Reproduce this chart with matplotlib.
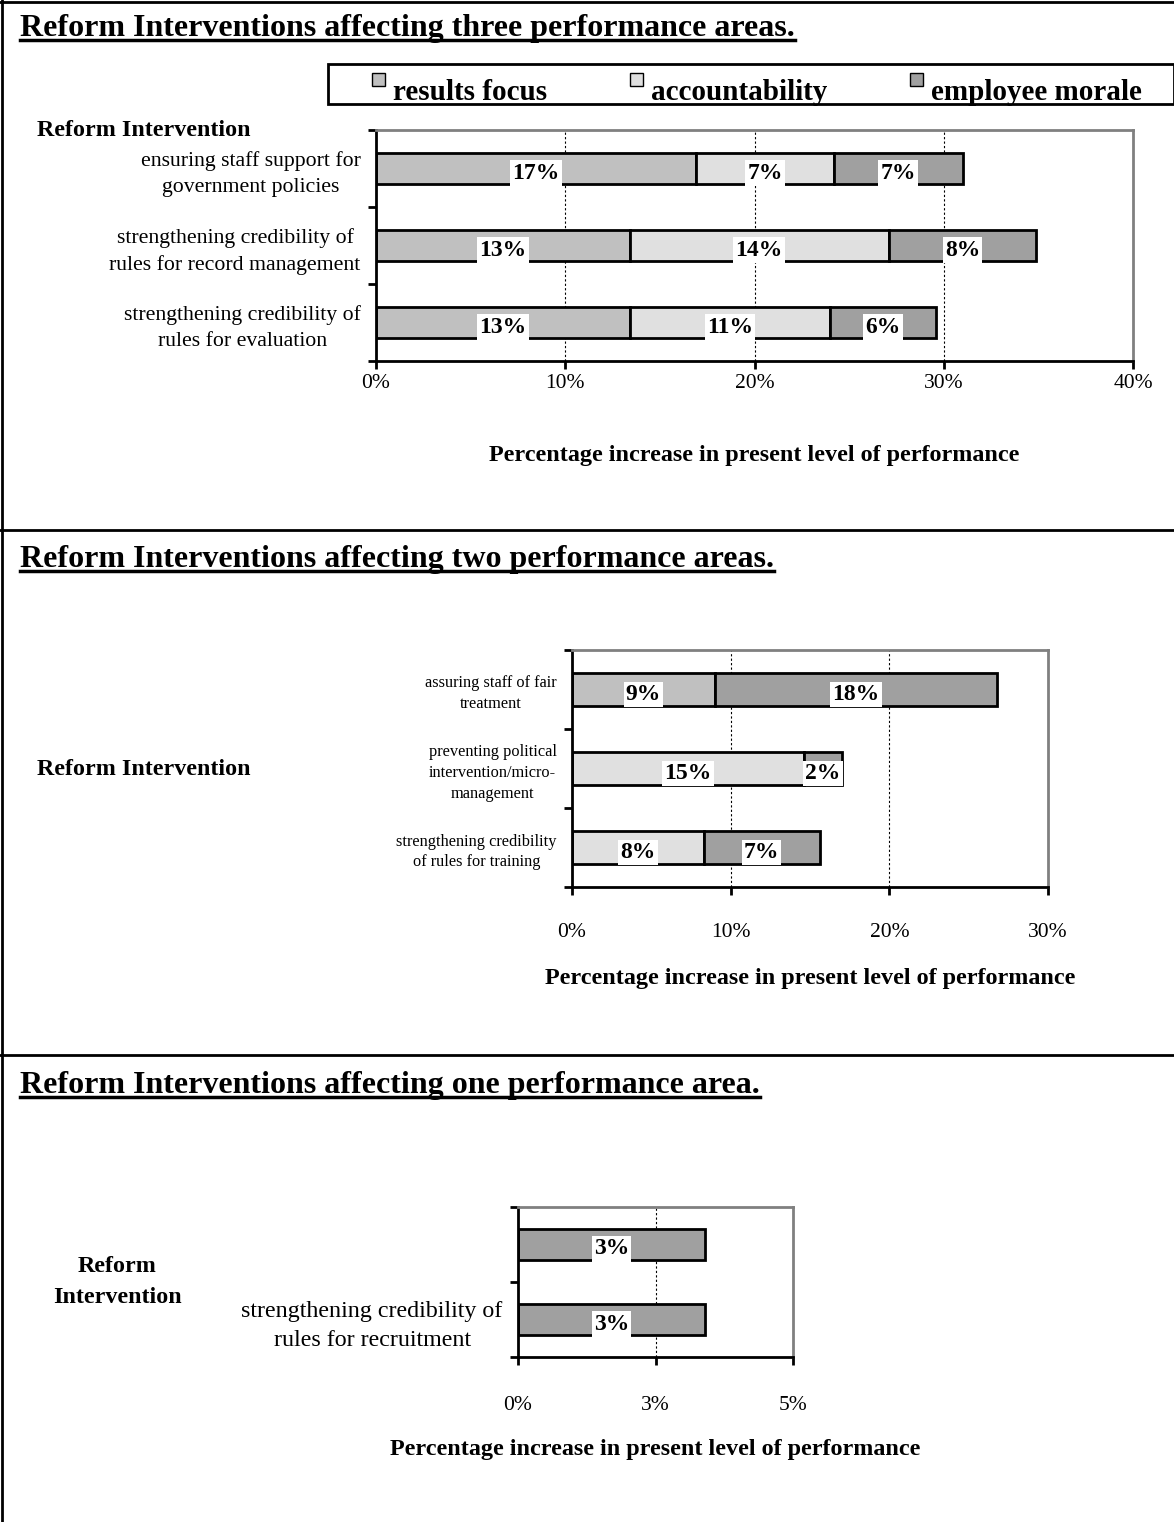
import matplotlib
matplotlib.use("Agg")
import matplotlib.pyplot as plt
import numpy as np
from matplotlib.patches import Rectangle
from matplotlib.lines import Line2D

plt.rcParams['font.family'] = ['Liberation Serif', 'DejaVu Serif']

W, H = 1174, 1522

series_names = ['results focus', 'accountability', 'employee morale']
series_colors = ['#c0c0c0', '#e0e0e0', '#a0a0a0']

# interventions affecting three areas
cats1 = ['ensuring staff support for\ngovernment policies',
         'strengthening credibility of\nrules for record management',
         'strengthening credibility of\nrules for evaluation']
results1 = [16.9, 13.4, 13.4]
account1 = [7.3, 13.7, 10.6]
morale1 = [6.8, 7.8, 5.6]
xticks1 = [0, 10, 20, 30, 40]
xlabels1 = ['0%', '10%', '20%', '30%', '40%']

# interventions affecting two areas
cats2 = ['assuring staff of fair\ntreatment',
         'preventing political\nintervention/micro-\nmanagement',
         'strengthening credibility\nof rules for training']
results2 = [9.0, 0, 0]
account2 = [0, 14.6, 8.3]
morale2 = [17.8, 2.4, 7.3]
xticks2 = [0, 10, 20, 30]
xlabels2 = ['0%', '10%', '20%', '30%']

# interventions affecting one area
cats3 = ['', 'strengthening credibility of\nrules for recruitment']
results3 = [0, 0]
account3 = [0, 0]
morale3 = [3.4, 3.4]
xticks3 = [0, 2.5, 5]
xlabels3 = ['0%', '3%', '5%']


def fx(px):
    return px / W


def fy(py):
    return 1 - py / H


fig = plt.figure(figsize=(W / 100, H / 100), dpi=100)


def panel(box, cats, series, xticks, xlabels, cat_size, cat_spacing, xpad, xlabel_y):
    left, top, right, bottom = box
    ax = fig.add_axes([fx(left), fy(bottom), (right - left) / W, (bottom - top) / H])
    y = np.arange(len(cats))
    base = np.zeros(len(cats))
    for vals, col in zip(series, series_colors):
        vals = np.array(vals, dtype=float)
        m = vals > 0
        ax.barh(y[m], vals[m], left=base[m], height=0.41, color=col,
                edgecolor='black', linewidth=2, zorder=2)
        for yi, b, v in zip(y[m], base[m], vals[m]):
            ax.text(b + v / 2, yi + 0.06, f'{v:.0f}%', ha='center', va='center',
                    fontsize=17, fontweight='bold', zorder=3,
                    bbox=dict(facecolor='white', edgecolor='none', pad=1.5))
        base = base + vals
    ax.set_xlim(xticks[0], xticks[-1])
    ax.set_ylim(len(cats) - 0.5, -0.5)
    for xt in xticks[1:-1]:
        ax.axvline(xt, color='black', lw=0.8, ls=(0, (2, 2)), zorder=1)
    ax.set_xticks(xticks)
    ax.set_xticklabels(xlabels, fontsize=15.5)
    ax.tick_params(axis='x', length=6, width=2, pad=xpad)
    ax.set_yticks(np.arange(len(cats) + 1) - 0.5)
    ax.set_yticklabels([])
    ax.tick_params(axis='y', which='major', length=6, width=2)
    ax.set_yticks(y, minor=True)
    ax.set_yticklabels(cats, minor=True, fontsize=cat_size)
    ax.tick_params(axis='y', which='minor', length=0, pad=11)
    for lab in ax.get_yticklabels(minor=True):
        lab.set_multialignment('center')
        lab.set_linespacing(cat_spacing)
    for s in ['left', 'bottom']:
        ax.spines[s].set_linewidth(2)
        ax.spines[s].set_color('black')
    for s in ['top', 'right']:
        ax.spines[s].set_linewidth(2)
        ax.spines[s].set_color('#808080')
    fig.text(fx((left + right) / 2), fy(xlabel_y),
             'Percentage increase in present level of performance',
             ha='center', va='center', fontsize=17.4, fontweight='bold')
    return ax


panel((376, 130, 1133, 361), cats1, [results1, account1, morale1],
      xticks1, xlabels1, 15.7, 1.5, 3, 455)
panel((572, 650, 1048, 887), cats2, [results2, account2, morale2],
      xticks2, xlabels2, 11.8, 1.4, 20, 978)
panel((518, 1207, 793, 1357), cats3, [results3, account3, morale3],
      xticks3, xlabels3, 17.3, 1.5, 22, 1450)

# section titles
titles = [('Reform Interventions affecting three performance areas.', 36),
          ('Reform Interventions affecting two performance areas.', 567),
          ('Reform Interventions affecting one performance area.', 1093)]
title_texts = []
for txt, base_y in titles:
    t = fig.text(fx(20), fy(base_y), txt, ha='left', va='baseline',
                 fontsize=23, fontweight='bold')
    title_texts.append((t, base_y))

fig.text(fx(37), fy(131), 'Reform Intervention', ha='left', va='center',
         fontsize=17.3, fontweight='bold')
fig.text(fx(37), fy(769), 'Reform Intervention', ha='left', va='center',
         fontsize=17.3, fontweight='bold')
fig.text(fx(117), fy(1282), 'Reform\nIntervention', ha='center', va='center',
         fontsize=17.3, fontweight='bold', linespacing=1.6)

# legend box
fig.add_artist(Rectangle((fx(328), fy(104)), (1174 - 328) / W, 40 / H,
                         transform=fig.transFigure, fill=False,
                         edgecolor='black', lw=2))
for name, col, sx in zip(series_names, series_colors, [372, 630, 910]):
    fig.add_artist(Rectangle((fx(sx), fy(86)), 13 / W, 13 / H,
                             transform=fig.transFigure, facecolor=col,
                             edgecolor='black', lw=1))
    fig.text(fx(sx + 21), fy(100), name, ha='left', va='baseline',
             fontsize=21, fontweight='bold')

# page frame and section separators
frame = [([2, 2], [0, H]), ([0, W], [2, 2]),
         ([0, W], [530, 530]), ([0, W], [1055, 1055])]
for xs, ys in frame:
    fig.add_artist(Line2D([fx(v) for v in xs], [fy(v) for v in ys],
                          transform=fig.transFigure, color='black', lw=2))

# underline the titles
fig.canvas.draw()
r = fig.canvas.get_renderer()
for t, base_y in title_texts:
    bb = t.get_window_extent(renderer=r)
    fig.add_artist(Line2D([bb.x0 / W, bb.x1 / W], [fy(base_y + 4)] * 2,
                          transform=fig.transFigure, color='black', lw=2.5))

fig.savefig('out.png', dpi=100)
